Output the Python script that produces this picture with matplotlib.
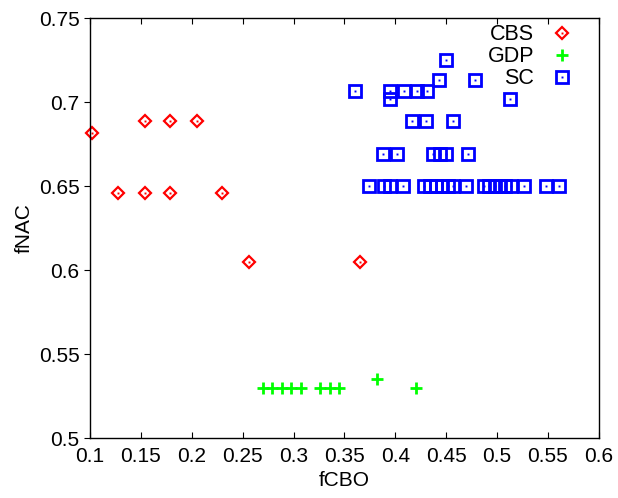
import matplotlib.pyplot as plt

plt.rcParams['font.family'] = ['Liberation Sans', 'DejaVu Sans']

# CBS
cbs_x = [0.102, 0.154, 0.179, 0.205, 0.128, 0.154, 0.179, 0.230, 0.256, 0.365]
cbs_y = [0.682, 0.689, 0.689, 0.689, 0.646, 0.646, 0.646, 0.646, 0.605, 0.605]

# GDP
gdp_x = [0.270, 0.279, 0.289, 0.298, 0.307, 0.326, 0.336, 0.345, 0.382, 0.420]
gdp_y = [0.530, 0.530, 0.530, 0.530, 0.530, 0.530, 0.530, 0.530, 0.535, 0.530]

# SC
sc_x = [0.450,
        0.443, 0.478,
        0.360, 0.395, 0.409, 0.421, 0.431,
        0.395, 0.513,
        0.416, 0.430, 0.457,
        0.388, 0.402, 0.437, 0.444, 0.450, 0.471,
        0.374, 0.389, 0.395, 0.408, 0.428, 0.434, 0.440, 0.446, 0.452, 0.457,
        0.469, 0.487, 0.492, 0.498, 0.503, 0.508, 0.514, 0.526, 0.548, 0.561]
sc_y = [0.725,
        0.713, 0.713,
        0.707, 0.707, 0.707, 0.707, 0.707,
        0.702, 0.702,
        0.689, 0.689, 0.689,
        0.669, 0.669, 0.669, 0.669, 0.669, 0.669,
        0.650, 0.650, 0.650, 0.650, 0.650, 0.650, 0.650, 0.650, 0.650, 0.650,
        0.650, 0.650, 0.650, 0.650, 0.650, 0.650, 0.650, 0.650, 0.650, 0.650]

x_ticks = [0.1, 0.15, 0.2, 0.25, 0.3, 0.35, 0.4, 0.45, 0.5, 0.55, 0.6]
y_ticks = [0.5, 0.55, 0.6, 0.65, 0.7, 0.75]

fig = plt.figure(figsize=(6.18, 4.98), dpi=100)
ax = fig.add_axes([0.1456, 0.12, 0.8234, 0.8433])

h1, = ax.plot(cbs_x, cbs_y, ls='none', marker='D', ms=6.2, mfc='none', mec='red', mew=1.6, clip_on=False)
h1d, = ax.plot(cbs_x, cbs_y, ls='none', marker='s', ms=1.4, mfc='red', mec='red', mew=0, clip_on=False)
h2, = ax.plot(gdp_x, gdp_y, ls='none', marker='+', ms=9, mec='#00ff00', mew=2, clip_on=False)
h3, = ax.plot(sc_x, sc_y, ls='none', marker='s', ms=8.2, mfc='none', mec='blue', mew=2, clip_on=False)
h3d, = ax.plot(sc_x, sc_y, ls='none', marker='s', ms=1.4, mfc='blue', mec='blue', mew=0, clip_on=False)

ax.set_xlim(0.1, 0.6)
ax.set_ylim(0.5, 0.75)
ax.set_xticks(x_ticks)
ax.set_yticks(y_ticks)
ax.set_xticklabels([f'{t:g}' for t in x_ticks])
ax.set_yticklabels([f'{t:g}' for t in y_ticks])
ax.tick_params(axis='x', direction='in', top=True, length=4, labelsize=15, pad=6)
ax.tick_params(axis='y', direction='out', length=4, labelsize=15)
for s in ax.spines.values():
    s.set_linewidth(1.0)

ax.set_xlabel('fCBO', fontsize=15, labelpad=4)
ax.set_ylabel('fNAC', fontsize=15, labelpad=4)

leg = ax.legend([(h1, h1d), h2, (h3, h3d)], ['CBS', 'GDP', 'SC'],
                loc='upper right', bbox_to_anchor=(0.979, 1.017), frameon=False,
                markerfirst=False, fontsize=15.5, labelspacing=0.05,
                handlelength=1.2, handletextpad=0.7, borderaxespad=0.2)

fig.savefig('out.png', dpi=100)
